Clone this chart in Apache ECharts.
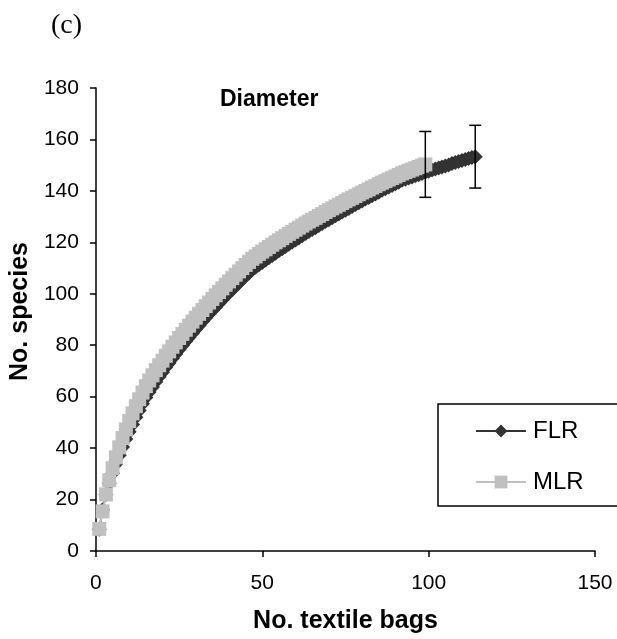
<!DOCTYPE html>
<html>
<head>
<meta charset="utf-8">
<script src="https://cdn.jsdelivr.net/npm/echarts@6/dist/echarts.min.js"></script>
<style>
  html, body { margin: 0; padding: 0; background: #ffffff; }
  #chart { width: 617px; height: 639px; }
</style>
</head>
<body>
<div id="chart"></div>
<script>
// Cumulative species counts, one value per additional textile bag (bag 1, 2, 3, ...)
const speciesFLR = [
  8.5, 16.0, 22.0, 26.3, 30.2, 33.8, 37.2, 40.4, 43.5, 46.4,
  49.2, 52.0, 54.6, 57.2, 59.7, 61.8, 63.8, 65.8, 67.7, 69.5,
  71.4, 73.1, 74.9, 76.6, 78.3, 79.9, 81.5, 83.1, 84.7, 86.2,
  87.7, 89.2, 90.7, 92.1, 93.5, 94.9, 96.3, 97.7, 99.1, 100.4,
  101.7, 103.0, 104.3, 105.6, 106.9, 108.1, 109.4, 110.3, 111.3, 112.2,
  113.1, 114.0, 114.9, 115.8, 116.7, 117.5, 118.4, 119.3, 120.1, 120.9,
  121.7, 122.6, 123.4, 124.2, 125.0, 125.7, 126.5, 127.3, 128.1, 128.8,
  129.6, 130.3, 131.0, 131.8, 132.5, 133.2, 133.9, 134.7, 135.4, 136.1,
  136.8, 137.4, 138.1, 138.8, 139.5, 140.2, 140.8, 141.5, 142.1, 142.8,
  143.4, 144.1, 144.5, 145.0, 145.4, 145.9, 146.3, 146.8, 147.2, 147.6,
  148.1, 148.5, 148.9, 149.3, 149.7, 150.1, 150.6, 151.0, 151.4, 151.8,
  152.2, 152.6, 153.0, 153.3
];
const speciesMLR = [
  8.6, 15.4, 22.0, 27.5, 32.2, 36.4, 40.3, 43.9, 47.3, 50.5,
  53.5, 56.3, 59.0, 61.6, 64.1, 66.3, 68.3, 70.3, 72.2, 74.0,
  75.9, 77.6, 79.4, 81.1, 82.8, 84.4, 86.0, 87.6, 89.2, 90.7,
  92.2, 93.7, 95.2, 96.6, 98.0, 99.4, 100.7, 102.1, 103.5, 104.8,
  106.1, 107.4, 108.7, 110.0, 111.2, 112.4, 113.6, 114.5, 115.5, 116.4,
  117.3, 118.2, 119.1, 120.0, 120.8, 121.6, 122.5, 123.3, 124.1, 124.9,
  125.7, 126.5, 127.3, 128.1, 128.8, 129.5, 130.3, 131.0, 131.8, 132.5,
  133.2, 133.9, 134.6, 135.3, 136.0, 136.7, 137.3, 138.0, 138.7, 139.4,
  140.0, 140.6, 141.3, 141.9, 142.6, 143.2, 143.8, 144.4, 145.0, 145.6,
  146.2, 146.8, 147.3, 147.8, 148.3, 148.8, 149.3, 149.8, 150.3
];

// Error bars at the final bag of each curve: [bags, lower, upper]
const errorFLR = [114, 141.1, 165.5];
const errorMLR = [99, 137.5, 163.1];

const xTicks = { min: 0, max: 150, step: 50 };
const yTicks = { min: 0, max: 180, step: 20 };

const FONT = "'Liberation Sans', Arial, sans-serif";

// Pair each cumulative count with its bag number (1-based)
const toPoints = (arr) => arr.map((v, i) => [i + 1, v]);

const chart = echarts.init(document.getElementById('chart'), null, { renderer: 'canvas' });

const errorBarRenderer = function (params, api) {
  const x = api.value(0);
  const top = api.coord([x, api.value(2)]);
  const bot = api.coord([x, api.value(1)]);
  const half = 6;
  const style = { stroke: '#000000', lineWidth: 1.5 };
  return {
    type: 'group',
    children: [
      { type: 'line', shape: { x1: top[0], y1: top[1], x2: bot[0], y2: bot[1] }, style: style },
      { type: 'line', shape: { x1: top[0] - half, y1: top[1], x2: top[0] + half, y2: top[1] }, style: style },
      { type: 'line', shape: { x1: bot[0] - half, y1: bot[1], x2: bot[0] + half, y2: bot[1] }, style: style }
    ]
  };
};

chart.setOption({
  animation: false,
  backgroundColor: '#ffffff',
  title: [
    {
      text: '(c)',
      left: 46, top: 7,
      textStyle: { fontFamily: "'Liberation Serif', 'Times New Roman', serif", fontSize: 28, fontWeight: 'normal', color: '#000' }
    },
    {
      text: 'Diameter',
      left: 215, top: 83,
      textStyle: { fontFamily: FONT, fontSize: 23, fontWeight: 'bold', color: '#000' }
    }
  ],
  grid: { left: 95, right: 22, top: 88, bottom: 88 },
  legend: {
    data: ['FLR', 'MLR'],
    orient: 'vertical',
    left: 438, top: 404,
    padding: [15, 80, 12, 37],
    itemWidth: 50, itemHeight: 16, itemGap: 27,
    borderColor: '#000', borderWidth: 1.5,
    textStyle: { fontFamily: FONT, fontSize: 24, color: '#000', padding: [0, 0, 0, 2] }
  },
  xAxis: {
    type: 'value',
    min: xTicks.min, max: xTicks.max, interval: xTicks.step,
    name: 'No. textile bags', nameLocation: 'middle', nameGap: 58,
    nameTextStyle: { fontFamily: FONT, fontSize: 25, fontWeight: 'bold', color: '#000' },
    axisLine: { onZero: false, lineStyle: { color: '#000', width: 1.5 } },
    axisTick: { inside: false, length: 6, lineStyle: { color: '#000', width: 1.5 } },
    axisLabel: { fontFamily: FONT, fontSize: 21, color: '#000', margin: 22 },
    splitLine: { show: false }
  },
  yAxis: {
    type: 'value',
    min: yTicks.min, max: yTicks.max, interval: yTicks.step,
    name: 'No. species', nameLocation: 'middle', nameGap: 60,
    nameTextStyle: { fontFamily: FONT, fontSize: 25, fontWeight: 'bold', color: '#000', padding: [0, 0, 0, 16] },
    axisLine: { show: true, lineStyle: { color: '#000', width: 1.5 } },
    axisTick: { show: true, inside: false, length: 6, lineStyle: { color: '#000', width: 1.5 } },
    axisLabel: { fontFamily: FONT, fontSize: 21, color: '#000', margin: 17 },
    splitLine: { show: false }
  },
  series: [
    {
      name: 'FLR',
      type: 'line',
      data: toPoints(speciesFLR),
      symbol: 'diamond', symbolSize: 15,
      itemStyle: { color: '#333333' },
      lineStyle: { color: '#333333', width: 2 },
      z: 2
    },
    {
      name: 'MLR',
      type: 'line',
      data: toPoints(speciesMLR),
      symbol: 'rect', symbolSize: 14,
      itemStyle: { color: '#c0c0c0' },
      lineStyle: { color: '#c0c0c0', width: 2 },
      z: 3
    },
    {
      name: 'errors',
      type: 'custom',
      renderItem: errorBarRenderer,
      data: [errorFLR, errorMLR],
      encode: { x: 0, y: [1, 2] },
      z: 4
    }
  ]
});
</script>
</body>
</html>
